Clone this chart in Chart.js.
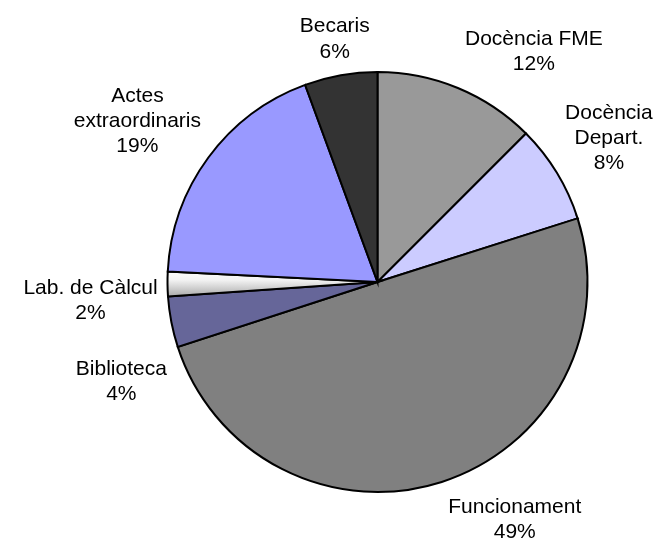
<!DOCTYPE html>
<html>
<head>
<meta charset="utf-8">
<script src="https://cdn.jsdelivr.net/npm/chart.js@4/dist/chart.umd.min.js"></script>
<style>
  html, body { margin: 0; padding: 0; background: #ffffff; }
  #wrap { width: 661px; height: 545px; position: relative; }
</style>
</head>
<body>
<div id="wrap"><canvas id="c" width="661" height="545"></canvas></div>
<script>
// ---- data ----
const categories = ['Docència FME', 'Docència Depart.', 'Funcionament', 'Biblioteca', 'Lab. de Càlcul', 'Actes extraordinaris', 'Becaris'];
const categoryLines = [['Docència FME'], ['Docència', 'Depart.'], ['Funcionament'], ['Biblioteca'], ['Lab. de Càlcul'], ['Actes', 'extraordinaris'], ['Becaris']];
const values = [12.5, 7.6, 49.9, 3.9, 1.9, 18.6, 5.6];
const percentLabels = ['12%', '8%', '49%', '4%', '2%', '19%', '6%'];

// ---- styles ----
const sliceColors = ['#999999', '#ccccff', '#808080', '#666699', 'GRADIENT', '#9999ff', '#333333'];
// label offset (dx, first-baseline dy) from the point on the rim at the slice's mid angle
const labelOffsets = [[76, -43], [52, -54], [73, 31], [-50, 53], [-77, 10], [-71, -56], [-6, -43]];
const FONT_SIZE = 21;
const LINE_H = 25.3;

function sliceFill(ctx) {
  const c = sliceColors[ctx.dataIndex];
  if (c !== 'GRADIENT') return c;
  const chart = ctx.chart;
  const area = chart.chartArea;
  if (!area) return '#e8e8e8';
  const cy = (area.top + area.bottom) / 2;
  const cx = (area.left + area.right) / 2;
  const g = chart.ctx.createLinearGradient(cx, cy - 13, cx, cy + 15);
  g.addColorStop(0, '#ffffff');
  g.addColorStop(0.4, '#f2f2f2');
  g.addColorStop(1, '#a8a8a8');
  return g;
}

const labelPlugin = {
  id: 'sliceLabels',
  afterDraw(chart) {
    const ctx = chart.ctx;
    const meta = chart.getDatasetMeta(0);
    ctx.save();
    ctx.font = FONT_SIZE + 'px "Liberation Sans", Arial, sans-serif';
    ctx.fillStyle = '#000000';
    ctx.textAlign = 'center';
    ctx.textBaseline = 'alphabetic';
    meta.data.forEach((arc, i) => {
      const mid = (arc.startAngle + arc.endAngle) / 2;
      const bx = arc.x + Math.cos(mid) * arc.outerRadius;
      const by = arc.y + Math.sin(mid) * arc.outerRadius;
      const x = bx + labelOffsets[i][0];
      const y = by + labelOffsets[i][1];
      const lines = categoryLines[i].concat([percentLabels[i]]);
      lines.forEach((t, k) => ctx.fillText(t, x, y + k * LINE_H));
    });
    ctx.restore();
  }
};

new Chart(document.getElementById('c'), {
  type: 'pie',
  data: {
    labels: categories,
    datasets: [{
      data: values,
      backgroundColor: sliceFill,
      borderColor: '#000000',
      borderWidth: 2,
      borderJoinStyle: 'miter',
      radius: 210
    }]
  },
  options: {
    responsive: false,
    animation: false,
    layout: { padding: { left: 94, right: 0, top: 19, bottom: 0 } },
    plugins: { legend: { display: false }, tooltip: { enabled: false } },
    events: []
  },
  plugins: [labelPlugin]
});
</script>
</body>
</html>
